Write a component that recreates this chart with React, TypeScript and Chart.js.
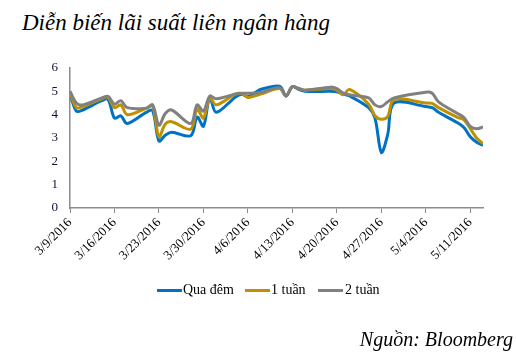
import React, { useEffect, useRef } from "react";
import { Chart, registerables } from "chart.js";

Chart.register(...registerables);

// ---- Data ----
const dates = [
  "2016-03-09", "2016-03-10", "2016-03-11", "2016-03-14", "2016-03-15", "2016-03-16", "2016-03-17", "2016-03-18",
  "2016-03-21", "2016-03-22", "2016-03-23", "2016-03-24", "2016-03-25", "2016-03-28", "2016-03-29", "2016-03-30",
  "2016-03-31", "2016-04-01", "2016-04-04", "2016-04-05", "2016-04-06", "2016-04-07", "2016-04-08", "2016-04-11",
  "2016-04-12", "2016-04-13", "2016-04-14", "2016-04-15", "2016-04-19", "2016-04-20", "2016-04-21", "2016-04-22",
  "2016-04-25", "2016-04-26", "2016-04-27", "2016-04-28", "2016-04-29", "2016-05-04", "2016-05-05", "2016-05-06",
  "2016-05-09", "2016-05-10", "2016-05-11", "2016-05-12", "2016-05-13",
];

const quaDem = [
  4.9, 4.15, 4.2, 4.6, 4.65, 3.85, 3.95, 3.62,
  4.1, 4.18, 2.87, 3.12, 3.25, 3.1, 3.9, 3.5,
  4.75, 4.1, 4.75, 4.88, 4.78, 4.92, 5.08, 5.22,
  4.8, 5.2, 5.08, 5.0, 5.0, 4.98, 4.88, 4.8,
  4.3, 3.85, 2.38, 3.15, 4.5, 4.35, 4.3, 4.1,
  3.65, 3.45, 3.05, 2.82, 2.68,
];

const motTuan = [
  4.95, 4.3, 4.35, 4.68, 4.74, 4.3, 4.42, 4.0,
  4.27, 4.38, 3.05, 3.6, 3.7, 3.38, 4.25, 3.85,
  4.72, 4.42, 4.88, 4.9, 4.74, 4.8, 4.88, 5.12,
  4.8, 5.2, 5.12, 5.05, 5.12, 5.05, 4.85, 5.08,
  4.45, 3.95, 3.8, 3.92, 4.65, 4.5, 4.48, 4.3,
  3.88, 3.78, 3.4, 3.0, 2.75,
];

const haiTuan = [
  5.0, 4.5, 4.42, 4.72, 4.78, 4.45, 4.6, 4.3,
  4.28, 4.42, 3.55, 4.05, 4.2, 3.62, 4.42, 4.15,
  4.8, 4.68, 4.88, 4.92, 4.92, 4.93, 4.95, 5.15,
  4.8, 5.2, 5.12, 5.05, 5.18, 5.12, 4.92, 4.85,
  4.72, 4.42, 4.35, 4.55, 4.72, 4.96, 4.92, 4.55,
  4.05, 3.88, 3.5, 3.4, 3.47,
];

const seriesNames = ["Qua đêm", "1 tuần", "2 tuần"];
const tickDates = [
  "2016-03-09", "2016-03-16", "2016-03-23", "2016-03-30", "2016-04-06",
  "2016-04-13", "2016-04-20", "2016-04-27", "2016-05-04", "2016-05-11",
];
const axisEndDate = "2016-05-13";
const yTicks = [0, 1, 2, 3, 4, 5, 6];

const titleText = "Diễn biến lãi suất liên ngân hàng";
const sourceText = "Nguồn: Bloomberg";

const COLORS = ["#0072C6", "#BF9000", "#808080"];
const SERIF = "'Liberation Serif', 'Times New Roman', serif";

const DAY = 86400000;
const startMs = Date.parse(dates[0]);
const dayOf = (s: string) => Math.round((Date.parse(s) - startMs) / DAY);
const labelOf = (d: number) => {
  const dt = new Date(startMs + d * DAY);
  return `${dt.getUTCMonth() + 1}/${dt.getUTCDate()}/${dt.getUTCFullYear()}`;
};

export default function App() {
  const ref = useRef<HTMLCanvasElement | null>(null);

  useEffect(() => {
    if (!ref.current) return;
    const values = [quaDem, motTuan, haiTuan];
    const chart = new Chart(ref.current, {
      type: "line",
      data: {
        datasets: values.map((vals, k) => ({
          label: seriesNames[k],
          data: dates.map((d, i) => ({ x: dayOf(d), y: vals[i] })),
          borderColor: COLORS[k],
          backgroundColor: COLORS[k],
          borderWidth: 3,
          pointRadius: 0,
          tension: 0.33,
          fill: false,
          order: 2 - k,
        })),
      },
      options: {
        animation: false,
        responsive: false,
        maintainAspectRatio: false,
        devicePixelRatio: 1,
        layout: { padding: { left: 8, top: 68, right: 33, bottom: 92 } },
        plugins: {
          legend: { display: false },
          tooltip: { enabled: false },
          title: { display: false },
        },
        scales: {
          x: {
            type: "linear",
            min: 0,
            max: dayOf(axisEndDate),
            afterBuildTicks: (s: any) => {
              s.ticks = tickDates.map((d) => ({ value: dayOf(d) }));
            },
            afterFit: (s: any) => {
              s.height = 60;
            },
            ticks: {
              autoSkip: false,
              minRotation: 45,
              maxRotation: 45,
              padding: 2,
              color: "#000",
              font: { family: SERIF, size: 13 },
              callback: (v: any) => labelOf(Number(v)),
            },
            grid: {
              display: true,
              drawOnChartArea: false,
              drawTicks: true,
              tickLength: 5,
              color: "#8c8c8c",
              lineWidth: 1,
            },
            border: { display: true, color: "#8c8c8c", width: 1.5 },
          },
          y: {
            min: 0,
            max: 6,
            afterBuildTicks: (s: any) => {
              s.ticks = yTicks.map((v) => ({ value: v }));
            },
            afterFit: (s: any) => {
              s.width = 62;
            },
            ticks: {
              padding: 12,
              color: "#111133",
              font: { family: SERIF, size: 13 },
            },
            grid: { display: false, drawTicks: false },
            border: { display: true, color: "#8c8c8c", width: 1.5 },
          },
        },
      } as any,
    });
    return () => chart.destroy();
  }, []);

  const legendText: React.CSSProperties = {
    position: "absolute",
    top: 283,
    fontFamily: SERIF,
    fontSize: 14,
    lineHeight: "14px",
    color: "#000",
    whiteSpace: "nowrap",
  };
  const legendLine = (left: number, color: string): React.CSSProperties => ({
    position: "absolute",
    left,
    top: 289,
    width: 25,
    height: 3,
    background: color,
  });

  return (
    <div
      style={{
        position: "absolute",
        left: 0,
        top: 0,
        width: 516,
        height: 360,
        background: "#fff",
        overflow: "hidden",
      }}
    >
      <div
        style={{
          position: "absolute",
          left: 22,
          top: 11,
          fontFamily: SERIF,
          fontStyle: "italic",
          fontSize: 23,
          lineHeight: "23px",
          color: "#000",
          whiteSpace: "nowrap",
        }}
      >
        {titleText}
      </div>
      <canvas
        ref={ref}
        width={516}
        height={360}
        style={{ position: "absolute", left: 0, top: 0, width: 516, height: 360 }}
      />
      <div style={legendLine(157, COLORS[0])} />
      <div style={{ ...legendText, left: 183 }}>{seriesNames[0]}</div>
      <div style={legendLine(245, COLORS[1])} />
      <div style={{ ...legendText, left: 271 }}>{seriesNames[1]}</div>
      <div style={legendLine(318, COLORS[2])} />
      <div style={{ ...legendText, left: 345 }}>{seriesNames[2]}</div>
      <div
        style={{
          position: "absolute",
          right: 3,
          top: 329,
          fontFamily: SERIF,
          fontStyle: "italic",
          fontSize: 20,
          lineHeight: "20px",
          color: "#000",
          whiteSpace: "nowrap",
        }}
      >
        {sourceText}
      </div>
    </div>
  );
}
